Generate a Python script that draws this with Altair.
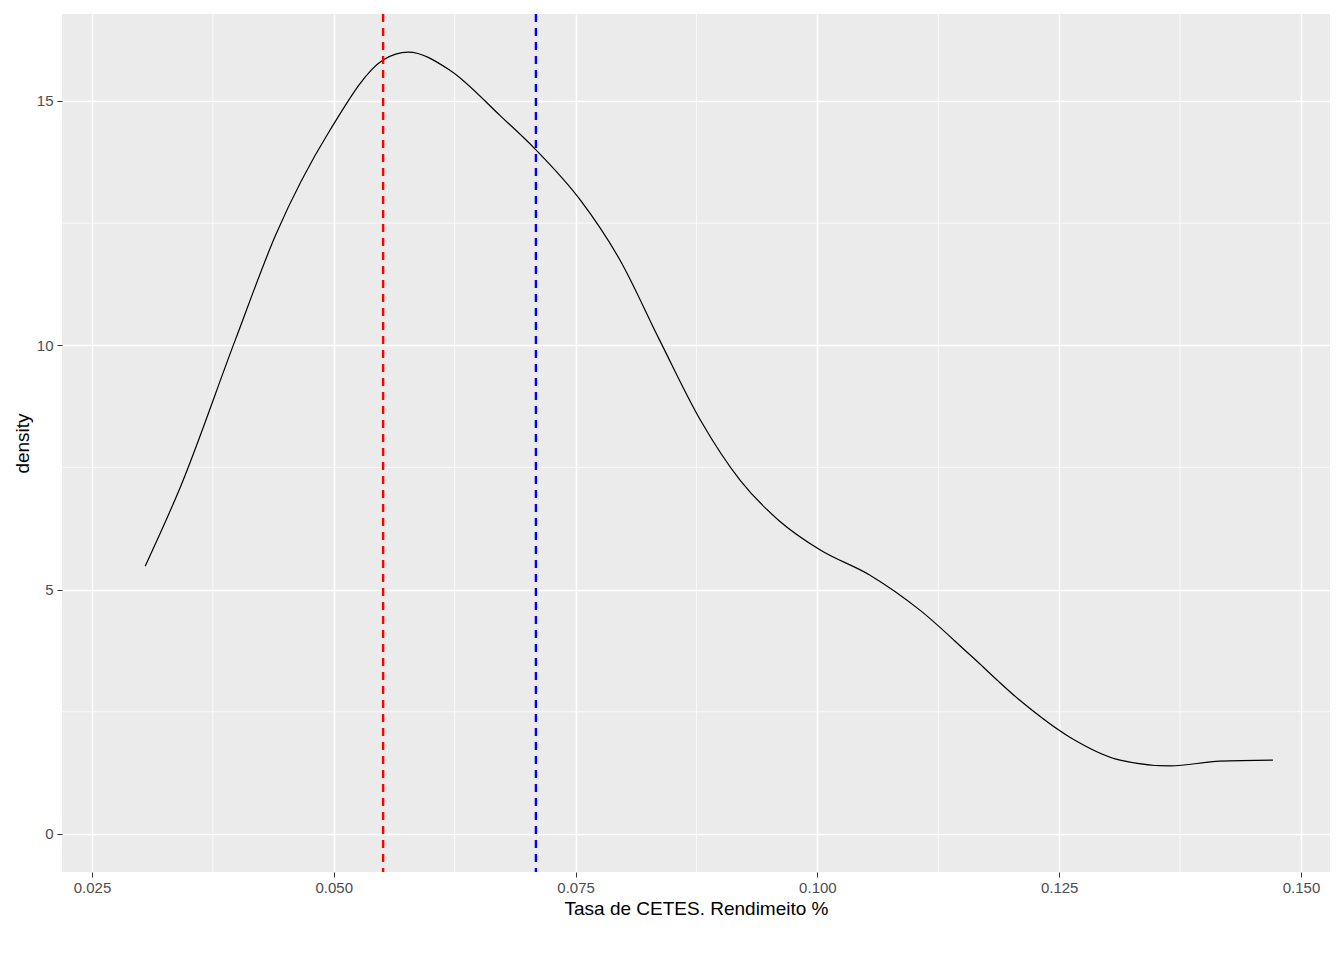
import altair as alt
import pandas as pd

# density curve
rate = [0.0305, 0.0341, 0.0398, 0.0440, 0.0496, 0.0551, 0.0577, 0.0620, 0.0672,
        0.0709, 0.0755, 0.0796, 0.0837, 0.0879, 0.0920, 0.0961, 0.1003, 0.1054,
        0.1106, 0.1158, 0.1209, 0.1261, 0.1313, 0.1365, 0.1416, 0.1471]
density = [5.48, 7.08, 10.1, 12.26, 14.4, 15.84, 16.0, 15.63, 14.7,
           14.0, 12.97, 11.74, 10.1, 8.47, 7.24, 6.4, 5.81, 5.3,
           4.58, 3.66, 2.74, 1.98, 1.51, 1.39, 1.49, 1.51]
median_rate = 0.0551
mean_rate = 0.0709
x_minor = [0.0375, 0.0625, 0.0875, 0.1125, 0.1375]
y_minor = [2.5, 7.5, 12.5]

df = pd.DataFrame({"rate": rate, "density": density})
xs = alt.Scale(domain=[0.0219, 0.153], nice=False, zero=False)
ys = alt.Scale(domain=[-0.78, 16.78], nice=False, zero=False)

xax = alt.Axis(values=[0.025, 0.05, 0.075, 0.1, 0.125, 0.15], format=".3f",
               title="Tasa de CETES. Rendimeito %", gridColor="white", gridWidth=1.6,
               tickColor="#333333", tickSize=5, domain=False, labelFontSize=15,
               labelColor="#4D4D4D", titleFontSize=19, titleFontWeight="normal",
               titleColor="black", labelPadding=3)
yax = alt.Axis(values=[0, 5, 10, 15], title="density", gridColor="white", gridWidth=1.6,
               tickColor="#333333", tickSize=5, domain=False, labelFontSize=15,
               labelColor="#4D4D4D", titleFontSize=19, titleFontWeight="normal",
               titleColor="black", labelPadding=4)

minor_x = alt.Chart(pd.DataFrame({"v": x_minor})).mark_rule(color="white", strokeWidth=0.7).encode(
    x=alt.X("v:Q", scale=xs, axis=xax))
minor_y = alt.Chart(pd.DataFrame({"v": y_minor})).mark_rule(color="white", strokeWidth=0.7).encode(
    y=alt.Y("v:Q", scale=ys, axis=yax))

line = alt.Chart(df).mark_line(color="black", strokeWidth=1.2, interpolate="monotone").encode(
    x=alt.X("rate:Q", scale=xs, axis=xax),
    y=alt.Y("density:Q", scale=ys, axis=yax),
)

vlines = alt.Chart(pd.DataFrame({"v": [median_rate, mean_rate], "c": ["red", "blue"]})).mark_rule(
    strokeWidth=2.4, strokeDash=[8, 6]).encode(
    x=alt.X("v:Q", scale=xs, axis=xax), color=alt.Color("c:N", scale=None))

chart = alt.layer(minor_x, minor_y, line, vlines).properties(
    width=1268, height=858, autosize="none",
    padding={"left": 54, "top": 6, "right": 0, "bottom": 80},
).configure_view(fill="#EBEBEB", stroke=None).configure_axis(
    labelFont="Liberation Sans", titleFont="Liberation Sans")

chart.save("out.html", embed_options={"renderer": "svg", "actions": False})
